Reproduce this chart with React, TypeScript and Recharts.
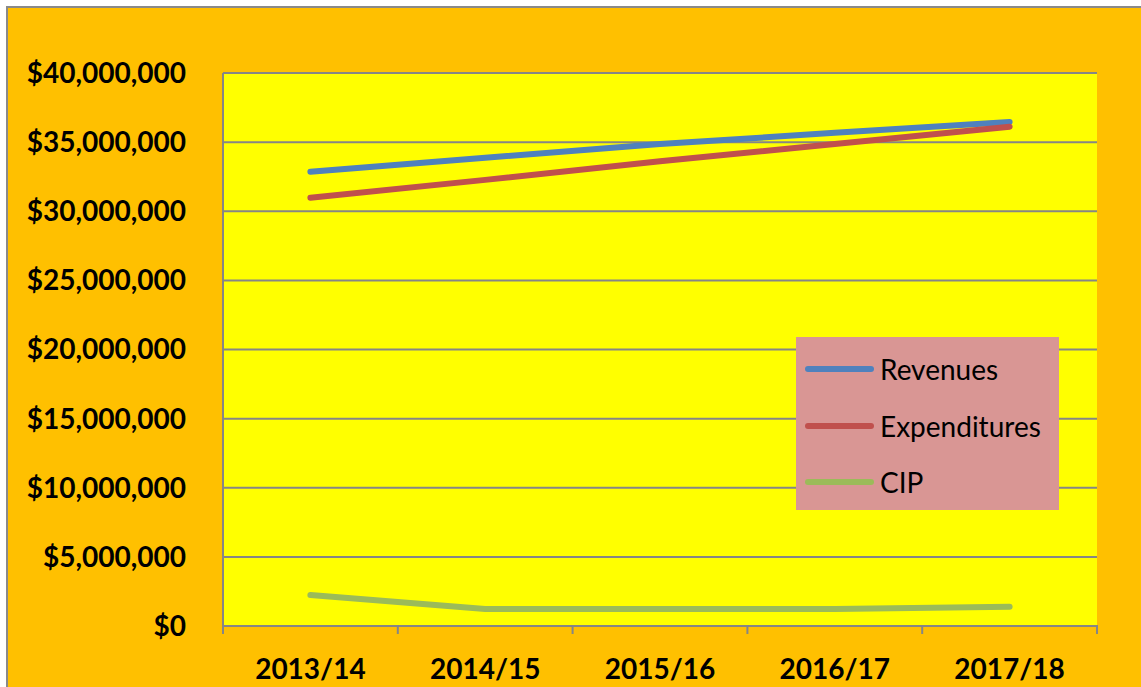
import React from 'react';
import { LineChart, Line, XAxis, YAxis, CartesianGrid } from 'recharts';

const categories = ['2013/14', '2014/15', '2015/16', '2016/17', '2017/18'];
const revenues = [32860000, 33870000, 34860000, 35670000, 36460000];
const expenditures = [30980000, 32270000, 33610000, 34860000, 36120000];
const cip = [2240000, 1230000, 1230000, 1230000, 1400000];
const yTicks = [0, 5000000, 10000000, 15000000, 20000000, 25000000, 30000000, 35000000, 40000000];

const series = [
  { name: 'Revenues', color: '#4F81BD' },
  { name: 'Expenditures', color: '#C0504D' },
  { name: 'CIP', color: '#9BBB59' },
];

const data = categories.map((c, i) => ({
  year: c,
  Revenues: revenues[i],
  Expenditures: expenditures[i],
  CIP: cip[i],
}));

const W = 1141;
const H = 687;
const PLOT_LEFT = 223;
const PLOT_RIGHT = 1097;
const BAND = (PLOT_RIGHT - PLOT_LEFT) / categories.length;
const GRID = '#868686';
const FONT = 'Lato, "DejaVu Sans", sans-serif';

const money = (v: number) => '$' + v.toLocaleString('en-US');

function XTick(props: any) {
  const { x, y, payload, index } = props;
  const left = x - BAND / 2;
  return (
    <g>
      <line x1={left} y1={y - 1} x2={left} y2={y + 8} stroke={GRID} strokeWidth={2} />
      {index === categories.length - 1 && (
        <line x1={x + BAND / 2} y1={y - 1} x2={x + BAND / 2} y2={y + 8} stroke={GRID} strokeWidth={2} />
      )}
      <text x={x} y={y + 42} textAnchor="middle" dominantBaseline="central" fontFamily={FONT} fontWeight={700} fontSize={28} fill="#000">
        {payload.value}
      </text>
    </g>
  );
}

function LegendBox() {
  return (
    <div style={{ position: 'absolute', left: 796, top: 337, width: 263, height: 173, background: '#D99694' }}>
      {series.map((s, i) => (
        <div key={s.name} style={{ position: 'absolute', left: 0, top: 32 + i * 56.5 - 18, height: 36, width: 263 }}>
          <svg width={80} height={36} style={{ position: 'absolute', left: 0, top: 0 }}>
            <line x1={12} y1={18} x2={75} y2={18} stroke={s.color} strokeWidth={6} strokeLinecap="round" />
          </svg>
          <span style={{ position: 'absolute', left: 84, top: 0, lineHeight: '36px', fontFamily: FONT, fontSize: 28, color: '#000', whiteSpace: 'nowrap' }}>
            {s.name}
          </span>
        </div>
      ))}
    </div>
  );
}

export default function App() {
  return (
    <div style={{ position: 'relative', width: W, height: H, overflow: 'hidden', background: '#fff' }}>
      <style>{'body{margin:0}'}</style>
      <div style={{ position: 'absolute', left: 6, top: 6, width: 1200, height: 760, border: '2px solid #8a8a8a', background: '#FFC000' }} />
      <div style={{ position: 'absolute', left: 0, top: 0 }}>
        <LineChart width={W} height={H} data={data} margin={{ top: 73, right: W - PLOT_RIGHT, bottom: 0, left: 0 }}>
          <CartesianGrid vertical={false} fill="#FFFF00" stroke={GRID} strokeWidth={2} horizontalValues={yTicks} />
          <XAxis
            dataKey="year"
            height={61}
            padding={{ left: BAND / 2, right: BAND / 2 }}
            axisLine={{ stroke: GRID, strokeWidth: 2 }}
            tickLine={false}
            tickSize={0}
            tickMargin={0}
            interval={0}
            tick={<XTick />}
          />
          <YAxis
            width={PLOT_LEFT}
            domain={[0, 40000000]}
            ticks={yTicks}
            interval={0}
            axisLine={{ stroke: GRID, strokeWidth: 2 }}
            tickLine={false}
            tickSize={0}
            tickMargin={37}
            tickFormatter={money}
            tick={{ fill: '#000', fontFamily: FONT, fontWeight: 700, fontSize: 28 }}
          />
          {series.map((s) => (
            <Line key={s.name} dataKey={s.name} stroke={s.color} strokeWidth={6} strokeLinecap="round" dot={false} isAnimationActive={false} />
          ))}
        </LineChart>
      </div>
      <LegendBox />
    </div>
  );
}
